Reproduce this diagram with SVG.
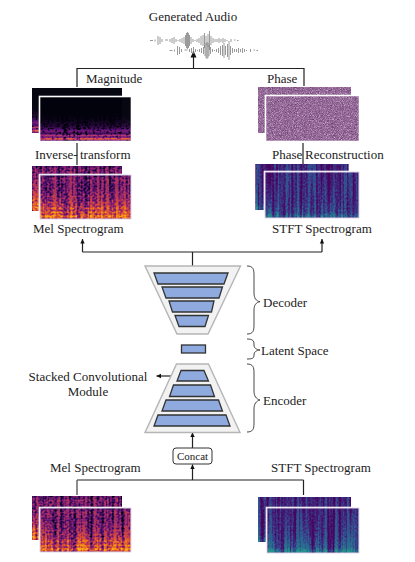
<svg xmlns="http://www.w3.org/2000/svg" width="415" height="562" viewBox="0 0 415 562">
<style>
text{font-family:"Liberation Serif","Times New Roman",serif;font-size:13px;fill:#222}
.c{fill:none;stroke:#222;stroke-width:1.2}
.g{fill:none;stroke:#666;stroke-width:1.5}
.outer{fill:#f2f2f2;stroke:#b5b5b5;stroke-width:1.4}
.blk{fill:#8eaadf;stroke:#333;stroke-width:1.3}
.br{fill:none;stroke:#333;stroke-width:.9}
.wave{fill:none;stroke:#808080;stroke-width:.8}
.mid{text-anchor:middle}
.fw{fill:none;stroke:#fff;stroke-width:1.6}
.fl{fill:none;stroke:#c9b8d6;stroke-width:.6}
</style>
<defs>
<marker id="ah" markerUnits="userSpaceOnUse" markerWidth="6" markerHeight="6" refX="4.500" refY="3" orient="auto"><path d="M0 .8L4.500 3L0 5.200z" fill="#111"/></marker>
<marker id="ahb" markerUnits="userSpaceOnUse" markerWidth="8" markerHeight="8" refX="6.500" refY="4" orient="auto"><path d="M0 1L6.500 4L0 7z" fill="#111"/></marker>
<linearGradient id="gMel" x1="0" y1="0" x2="0" y2="1">
<stop offset="0" stop-color="#404040"/><stop offset=".1" stop-color="#5c5c5c"/><stop offset=".25" stop-color="#505050"/><stop offset=".55" stop-color="#686868"/>
<stop offset=".7" stop-color="#7c7c7c"/><stop offset=".76" stop-color="#989898"/><stop offset=".8" stop-color="#787878"/><stop offset=".85" stop-color="#a8a8a8"/><stop offset=".89" stop-color="#808080"/><stop offset=".93" stop-color="#bcbcbc"/><stop offset=".97" stop-color="#a0a0a0"/><stop offset="1" stop-color="#787878"/>
</linearGradient>
<linearGradient id="gMag" x1="0" y1="0" x2="0" y2="1">
<stop offset="0" stop-color="#0c0c0c"/><stop offset=".5" stop-color="#202020"/><stop offset=".68" stop-color="#343434"/><stop offset=".78" stop-color="#626262"/><stop offset=".83" stop-color="#404040"/><stop offset=".88" stop-color="#8c8c8c"/><stop offset=".91" stop-color="#505050"/><stop offset=".95" stop-color="#b4b4b4"/><stop offset="1" stop-color="#484848"/>
</linearGradient>
<linearGradient id="gStft" x1="0" y1="0" x2="0" y2="1">
<stop offset="0" stop-color="#383838"/><stop offset=".6" stop-color="#444"/><stop offset=".88" stop-color="#5c5c5c"/><stop offset=".96" stop-color="#848484"/><stop offset="1" stop-color="#666"/>
</linearGradient>
<filter id="fMel" x="0" y="0" width="1" height="1" color-interpolation-filters="sRGB">
<feTurbulence type="fractalNoise" baseFrequency="0.33 0.012" numOctaves="2" seed="4"/><feColorMatrix values="1 0 0 0 0 1 0 0 0 0 1 0 0 0 0 0 0 0 0 1" result="s"/>
<feTurbulence type="fractalNoise" baseFrequency="0.42 0.5" numOctaves="1" seed="9"/><feColorMatrix values="1 0 0 0 0 1 0 0 0 0 1 0 0 0 0 0 0 0 0 1" result="d"/>
<feComposite in="s" in2="d" operator="arithmetic" k2="0.9" k3="0.8" result="n"/>
<feComposite in="n" in2="SourceGraphic" operator="arithmetic" k2="1" k3="1" k4="-0.86"/>
<feComponentTransfer><feFuncR type="table" tableValues="0 .22 .55 .85 .98 1"/><feFuncG type="table" tableValues="0 .05 .13 .3 .62 .95"/><feFuncB type="table" tableValues=".03 .38 .45 .22 .05 .5"/></feComponentTransfer>
</filter>
<filter id="fMag" x="0" y="0" width="1" height="1" color-interpolation-filters="sRGB">
<feTurbulence type="fractalNoise" baseFrequency="0.33 0.02" numOctaves="2" seed="4"/><feColorMatrix values="1 0 0 0 0 1 0 0 0 0 1 0 0 0 0 0 0 0 0 1" result="s"/>
<feTurbulence type="fractalNoise" baseFrequency="0.42 0.5" numOctaves="1" seed="9"/><feColorMatrix values="1 0 0 0 0 1 0 0 0 0 1 0 0 0 0 0 0 0 0 1" result="d"/>
<feComposite in="s" in2="d" operator="arithmetic" k2="0.8" k3="1.2" result="n"/>
<feComposite in="n" in2="SourceGraphic" operator="arithmetic" k2="1" k3="1.1" k4="-1.12"/>
<feComponentTransfer><feFuncR type="table" tableValues=".01 .3 .62 .9 1 1"/><feFuncG type="table" tableValues=".01 .05 .15 .38 .7 .95"/><feFuncB type="table" tableValues=".05 .42 .48 .2 .06 .5"/></feComponentTransfer>
</filter>
<filter id="fStft" x="0" y="0" width="1" height="1" color-interpolation-filters="sRGB">
<feTurbulence type="fractalNoise" baseFrequency="0.36 0.01" numOctaves="2" seed="12"/><feColorMatrix values="1 0 0 0 0 1 0 0 0 0 1 0 0 0 0 0 0 0 0 1" result="s"/>
<feTurbulence type="fractalNoise" baseFrequency="0.6 0.5" numOctaves="1" seed="5"/><feColorMatrix values="1 0 0 0 0 1 0 0 0 0 1 0 0 0 0 0 0 0 0 1" result="d"/>
<feComposite in="s" in2="d" operator="arithmetic" k2="1.1" k3="0.5" result="n"/>
<feComposite in="n" in2="SourceGraphic" operator="arithmetic" k2="1" k3="1" k4="-0.82"/>
<feComponentTransfer><feFuncR type="table" tableValues=".27 .27 .22 .16 .14 .3 .6"/><feFuncG type="table" tableValues=".02 .1 .25 .42 .58 .75 .88"/><feFuncB type="table" tableValues=".36 .45 .55 .56 .55 .48 .3"/></feComponentTransfer>
</filter>
<filter id="fPh" x="0" y="0" width="1" height="1" color-interpolation-filters="sRGB">
<feTurbulence type="fractalNoise" baseFrequency="1.13 1.27" numOctaves="2" seed="7"/><feColorMatrix values="1 0 0 0 0 1 0 0 0 0 1 0 0 0 0 0 0 0 0 1"/>
<feComponentTransfer><feFuncR type="table" tableValues=".4 .42 .52 .64 .8 .9"/><feFuncG type="table" tableValues=".24 .26 .36 .47 .66 .78"/><feFuncB type="table" tableValues=".42 .44 .54 .65 .78 .85"/></feComponentTransfer>
</filter>
<path id="wf" class="wave" d="M150 40.500h3M155 39.500v2M158 36v9M160 37v7M162 39v3M165 40h3M170 39v3M172 38v5M174 37v7M176 39v3M178 40v1M180 39v3M182 38v5M184 37v7M185.500 35v11M186.500 33v15M187.500 32v17M188.500 33v15M189.500 35v11M191 37v7M193 39v3M195 40v1M197 39v3M199 38v5M201 36v9M203 35v11M204.500 33v15M206 36v9M208 34v13M209.500 31v19M211 36v9M213 38v5M215 39v3M217 39v3M219 38v5M221 39v3M223 38v5M225 39v3M227 40v1M231 39v3M234 40h1.500M237 40.500h1.500"/>
</defs>

<g id="connectors">
<path class="c" d="M77 87V68.500H304V86"/>
<path class="c" d="M193.500 68.500V51" marker-end="url(#ahb)"/>
<path class="c" d="M77 143V165M303 143V165"/>
<path class="c" d="M192.500 266V252"/>
<path class="c" d="M82.500 252V239" marker-end="url(#ah)"/>
<path class="c" d="M322 252V239" marker-end="url(#ah)"/>
<path class="c" d="M82.500 252H322"/>
<path class="c" d="M192.500 448V432.500" marker-end="url(#ah)"/>
<path class="c" d="M192.500 480V464.500" marker-end="url(#ah)"/>
<path class="c" d="M77 480H303.500"/>
<path class="g" d="M77 480V495"/>
<path class="c" d="M303.500 480V495"/>
<path class="c" d="M178 376H156.500" marker-end="url(#ah)"/>
</g>

<g id="audio">
<text class="mid" x="193" y="21">Generated Audio</text>
<use href="#wf"/><use href="#wf" transform="translate(19.500 10)"/>
</g>

<g id="magnitude">
<text x="86" y="83">Magnitude</text>
<rect x="32" y="88" width="90" height="45" fill="url(#gMag)" filter="url(#fMag)"/>
<rect x="40" y="97" width="91" height="44" fill="url(#gMag)" filter="url(#fMag)"/>
<rect class="fw" x="39.500" y="96.500" width="92" height="45"/>
</g>
<g id="phase">
<text x="267" y="83">Phase</text>
<rect x="258" y="87" width="92.500" height="46" fill="#888" filter="url(#fPh)"/>
<rect x="266" y="96" width="93" height="45" fill="#888" filter="url(#fPh)"/>
<rect class="fw" x="265.500" y="95.500" width="94" height="46"/>
</g>
<g id="inverse-transform"><text x="35" y="159">Inverse-</text><text x="80" y="159">transform</text></g>
<g id="phase-reconstruction"><text x="272" y="159">Phase</text><text x="305" y="159">Reconstruction</text></g>

<g id="mel-top">
<rect x="32" y="166" width="90" height="45" fill="url(#gMel)" filter="url(#fMel)"/>
<rect x="40" y="175" width="91" height="44" fill="url(#gMel)" filter="url(#fMel)"/>
<rect class="fw" x="39.500" y="174.500" width="92" height="45"/>
<rect class="fl" x="40" y="175" width="91" height="44"/>
<text x="33" y="233">Mel Spectrogram</text>
</g>
<g id="stft-top">
<rect x="255.500" y="164" width="93" height="46" fill="url(#gStft)" filter="url(#fStft)"/>
<rect x="265" y="172" width="94" height="46" fill="url(#gStft)" filter="url(#fStft)"/>
<rect class="fw" x="264.500" y="171.500" width="95" height="47"/>
<rect class="fl" x="265" y="172" width="94" height="46"/>
<text x="272" y="233">STFT Spectrogram</text>
</g>

<g id="decoder">
<path class="outer" d="M145 266H240.500L208 334H177z"/>
<path class="blk" d="M154 273H228L224 284H158z"/>
<path class="blk" d="M162 287H222.500L219 298H166z"/>
<path class="blk" d="M169 301H214L211.500 312H172.500z"/>
<path class="blk" d="M175 315.500H208.500L205 326.500H179z"/>
<path class="br" d="M247 266C253 266 254 269 254 275V293C254 298 256 301 260 301.700C256 302.400 254 305 254 310V325C254 331 253 334 247 334"/>
<text x="263" y="307">Decoder</text>
</g>
<g id="latent">
<rect class="blk" x="181.500" y="345" width="24" height="8"/>
<path class="br" d="M247 339C253 339 254 341 254 344V345C254 348 256 349.500 260 350C256 350.500 254 352 254 355V355C254 358 253 359 247 359"/>
<text x="261" y="355">Latent Space</text>
</g>
<g id="encoder">
<path class="outer" d="M176.500 364H208.500L240 432.500H145z"/>
<path class="blk" d="M181 370.500H204L208.500 381H177z"/>
<path class="blk" d="M173.500 385H210.500L214.500 396.500H169.500z"/>
<path class="blk" d="M166 400H218.500L222.500 411H162z"/>
<path class="blk" d="M158 415H226L230 426H154z"/>
<path class="br" d="M247 364C253 364 254 367 254 373V391C254 396 256 399 260 400C256 401 254 404 254 409V423C254 429 253 432 247 432"/>
<text x="263" y="405">Encoder</text>
</g>
<g id="module-label"><text class="mid" x="88" y="381">Stacked Convolutional</text><text class="mid" x="88" y="396">Module</text></g>

<g id="concat">
<rect x="173" y="448" width="39" height="16" rx="3" fill="#fff" stroke="#333" stroke-width="1"/>
<text class="mid" x="192.500" y="460" style="font-size:11px">Concat</text>
</g>

<g id="mel-bottom">
<text x="50" y="472">Mel Spectrogram</text>
<rect x="32" y="496" width="90" height="44" fill="url(#gMel)" filter="url(#fMel)"/>
<rect x="40" y="508" width="91" height="44" fill="url(#gMel)" filter="url(#fMel)"/>
<rect class="fw" x="39.500" y="507.500" width="92" height="45"/>
<rect class="fl" x="40" y="508" width="91" height="44"/>
</g>
<g id="stft-bottom">
<text x="271" y="472">STFT Spectrogram</text>
<rect x="258" y="497" width="93" height="45" fill="url(#gStft)" filter="url(#fStft)"/>
<rect x="267" y="508" width="92" height="45" fill="url(#gStft)" filter="url(#fStft)"/>
<rect class="fw" x="266.500" y="507.500" width="93" height="46"/>
<rect class="fl" x="267" y="508" width="92" height="45"/>
</g>
</svg>
